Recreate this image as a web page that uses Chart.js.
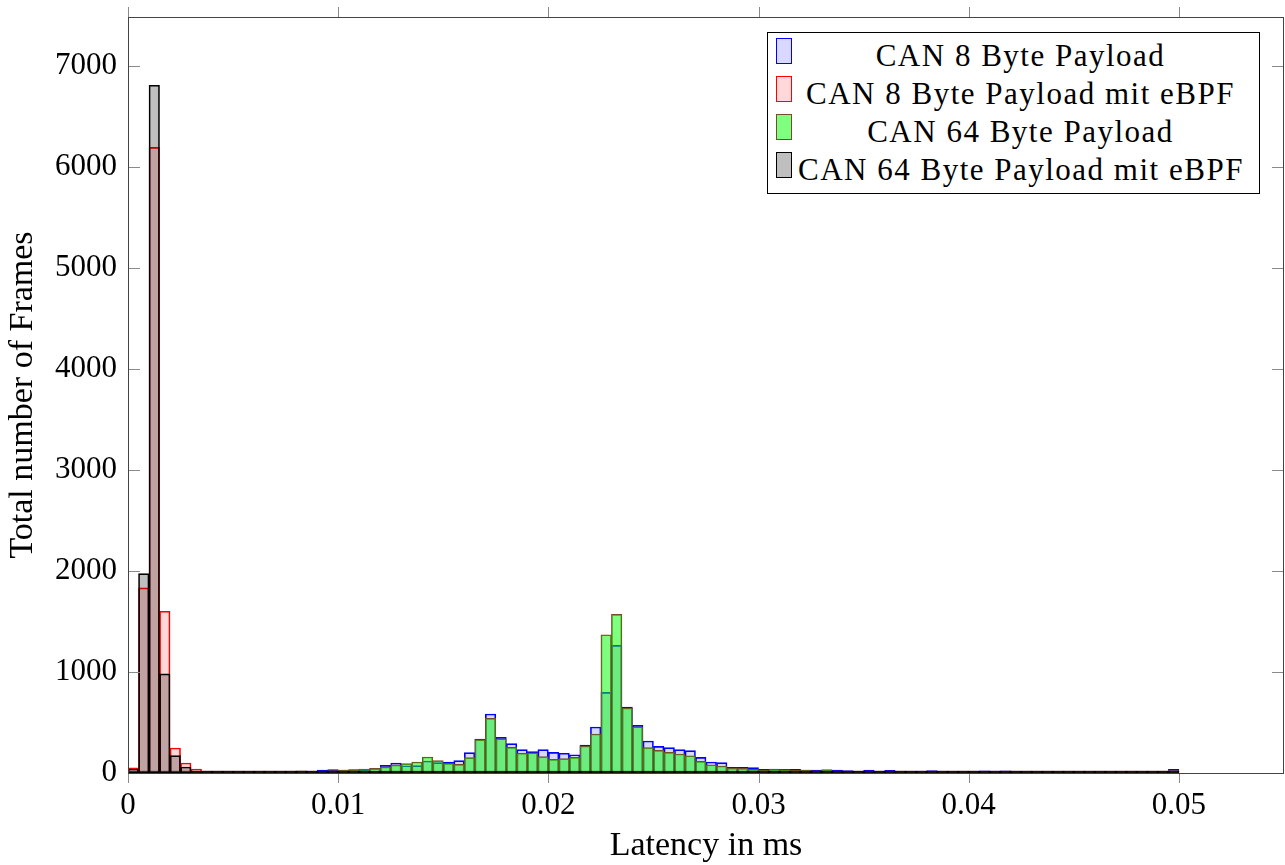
<!DOCTYPE html>
<html>
<head>
<meta charset="utf-8">
<title>Latency histogram</title>
<script src="https://cdn.jsdelivr.net/npm/chart.js"></script>
<style>
  html, body { margin: 0; padding: 0; background: #fff; }
  #wrap { position: relative; width: 1285px; height: 865px; }
  #legend {
    position: absolute; left: 767px; top: 32px;
    width: 493px; height: 162px; box-sizing: border-box;
    border: 1px solid #000; padding: 4px 0; background: #fff;
    font-family: "Liberation Serif", serif; font-size: 31px; color: #000;
  }
  .row { display: flex; height: 38px; line-height: 38px; }
  .swatch { width: 16px; height: 26px; box-sizing: border-box; margin: 1px 0 0 8px; border: 1px solid; }
  .label { width: 445px; margin-left: 6px; text-align: center; white-space: nowrap; letter-spacing: 1.5px; }
</style>
</head>
<body>
<div id="wrap">
  <canvas id="hist" width="1285" height="865"></canvas>
  <div id="legend"></div>
</div>
<script>
// histogram bins: 100 bins of 0.0005 ms starting at 0
const binWidth = 0.0005;

const seriesNames = [
  'CAN 8 Byte Payload',
  'CAN 8 Byte Payload mit eBPF',
  'CAN 64 Byte Payload',
  'CAN 64 Byte Payload mit eBPF'
];

const can8 = [
  0, 0, 0, 0, 0, 0, 0, 0, 0, 0,
  0, 0, 2, 5, 8, 10, 12, 15, 30, 33,
  30, 33, 33, 45, 75, 99, 72, 73, 119, 102,
  109, 122, 201, 335, 584, 353, 290, 231, 211, 231,
  204, 195, 181, 277, 455, 798, 1263, 653, 471, 317,
  264, 251, 231, 221, 155, 109, 102, 56, 56, 53,
  36, 40, 36, 36, 30, 30, 25, 30, 23, 16,
  30, 20, 26, 20, 20, 20, 23, 18, 14, 16,
  20, 22, 20, 22, 15, 18, 10, 8, 12, 16,
  15, 8, 10, 6, 8, 6, 5, 4, 6, 36
];

const can8Ebpf = [
  50, 1832, 6190, 1600, 247, 99, 40, 4, 2, 1,
  0, 0, 0, 0, 0, 0, 0, 0, 0, 0,
  0, 0, 0, 0, 0, 0, 0, 0, 0, 0,
  0, 0, 0, 0, 0, 0, 0, 0, 0, 0,
  0, 0, 0, 0, 0, 0, 0, 0, 0, 0,
  0, 0, 0, 0, 0, 0, 0, 0, 0, 0,
  0, 0, 0, 0, 0, 0, 0, 0, 0, 0,
  0, 0, 0, 0, 0, 0, 0, 0, 0, 0,
  0, 0, 0, 0, 0, 0, 0, 0, 0, 0,
  0, 0, 0, 0, 0, 0, 0, 0, 0, 0
];

const can64 = [
  0, 0, 0, 0, 0, 0, 0, 0, 0, 0,
  0, 0, 3, 6, 15, 18, 22, 14, 20, 25,
  28, 28, 40, 45, 60, 80, 92, 109, 158, 122,
  96, 86, 152, 330, 541, 339, 254, 195, 200, 162,
  135, 142, 155, 267, 386, 1368, 1569, 643, 458, 251,
  224, 204, 188, 171, 115, 82, 69, 49, 46, 36,
  30, 36, 33, 26, 28, 22, 33, 20, 15, 12,
  18, 14, 18, 12, 15, 10, 14, 15, 18, 12,
  10, 14, 12, 10, 14, 8, 10, 6, 8, 10,
  8, 10, 6, 8, 6, 5, 6, 4, 8, 23
];

const can64Ebpf = [
  40, 1973, 6805, 980, 172, 59, 16, 8, 2, 1,
  0, 0, 0, 0, 0, 0, 0, 0, 0, 0,
  0, 0, 0, 0, 0, 0, 0, 0, 0, 0,
  0, 0, 0, 0, 0, 0, 0, 0, 0, 0,
  0, 0, 0, 0, 0, 0, 0, 0, 0, 0,
  0, 0, 0, 0, 0, 0, 0, 0, 0, 0,
  0, 0, 0, 0, 0, 0, 0, 0, 0, 0,
  0, 0, 0, 0, 0, 0, 0, 0, 0, 0,
  0, 0, 0, 0, 0, 0, 0, 0, 0, 0,
  0, 0, 0, 0, 0, 0, 0, 0, 0, 0
];

const xTickValues = [0, 0.01, 0.02, 0.03, 0.04, 0.05];
const xTickLabels = ['0', '0.01', '0.02', '0.03', '0.04', '0.05'];
const yTickValues = [0, 1000, 2000, 3000, 4000, 5000, 6000, 7000];
const yTickLabels = ['0', '1000', '2000', '3000', '4000', '5000', '6000', '7000'];

const fills = ['rgba(0,0,255,0.15)', 'rgba(255,0,0,0.15)', 'rgba(0,255,0,0.5)', 'rgba(0,0,0,0.25)'];
const lines = ['#0000ff', '#ff0000', '#734d26', '#000000'];

function toBins(values) {
  return values.map((v, i) => ({ x: (i + 0.5) * binWidth, y: v }));
}

// frame with outside ticks on x and inside ticks on y
const frameAndTicks = {
  id: 'frameAndTicks',
  afterDatasetsDraw(chart) {
    const { ctx, chartArea: a, scales: { x, y } } = chart;
    ctx.save();
    ctx.lineWidth = 1;
    ctx.strokeStyle = '#8a8a8a';
    ctx.beginPath();
    xTickValues.forEach(v => {
      const px = Math.round(x.getPixelForValue(v)) + 0.5;
      ctx.moveTo(px, a.top); ctx.lineTo(px, a.top - 10);
      ctx.moveTo(px, a.bottom); ctx.lineTo(px, a.bottom + 10);
    });
    yTickValues.forEach(v => {
      const py = Math.round(y.getPixelForValue(v)) + 0.5;
      ctx.moveTo(a.left, py); ctx.lineTo(a.left + 12, py);
      ctx.moveTo(a.right, py); ctx.lineTo(a.right - 12, py);
    });
    ctx.stroke();
    ctx.strokeStyle = '#444';
    ctx.strokeRect(a.left + 0.5, a.top + 0.5, a.right - a.left - 1, a.bottom - a.top);
    ctx.restore();
  }
};

Chart.defaults.font.family = '"Liberation Serif", serif';
Chart.defaults.font.size = 31;
Chart.defaults.color = '#000';

const allSeries = [can8, can8Ebpf, can64, can64Ebpf];

new Chart(document.getElementById('hist'), {
  type: 'bar',
  data: {
    datasets: allSeries.map((values, i) => ({
      label: seriesNames[i],
      data: toBins(values),
      backgroundColor: fills[i],
      borderColor: lines[i],
      borderWidth: 1,
      borderSkipped: false,
      grouped: false,
      barPercentage: 1,
      categoryPercentage: 1,
      minBarLength: 2,
      order: 4 - i
    }))
  },
  options: {
    responsive: false,
    animation: false,
    layout: { padding: { top: 17, right: 1, left: 0, bottom: 0 } },
    plugins: { legend: { display: false }, tooltip: { enabled: false } },
    scales: {
      x: {
        type: 'linear',
        min: 0,
        max: 0.055,
        offset: false,
        grid: { display: false, drawTicks: false, offset: false },
        border: { display: false },
        afterBuildTicks: s => { s.ticks = xTickValues.map(v => ({ value: v })); },
        afterFit: s => { s.height = 92; s.paddingLeft = 0; s.paddingRight = 0; },
        ticks: { padding: 14, maxRotation: 0, callback: (v, i) => xTickLabels[i] },
        title: { display: true, text: 'Latency in ms', font: { size: 34, lineHeight: 1 }, padding: { top: 0, bottom: 2 } }
      },
      y: {
        min: 0,
        max: 7480,
        grid: { display: false, drawTicks: false },
        border: { display: false },
        afterBuildTicks: s => { s.ticks = yTickValues.map(v => ({ value: v })); },
        afterFit: s => { s.width = 128; s.paddingTop = 0; s.paddingBottom = 0; },
        ticks: { padding: 11, callback: (v, i) => yTickLabels[i] },
        title: { display: true, text: 'Total number of Frames', font: { size: 34, lineHeight: 1 }, padding: { top: 6, bottom: 0 } }
      }
    }
  },
  plugins: [frameAndTicks]
});

// legend box
const legend = document.getElementById('legend');
seriesNames.forEach((name, i) => {
  const row = document.createElement('div');
  row.className = 'row';
  const sw = document.createElement('div');
  sw.className = 'swatch';
  sw.style.background = fills[i];
  sw.style.borderColor = lines[i];
  const label = document.createElement('span');
  label.className = 'label';
  label.textContent = name;
  row.appendChild(sw);
  row.appendChild(label);
  legend.appendChild(row);
});
</script>
</body>
</html>
